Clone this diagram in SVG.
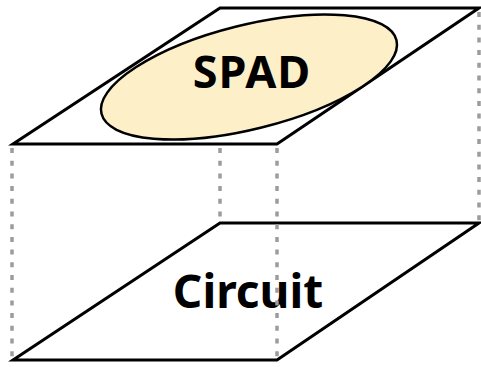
<svg xmlns="http://www.w3.org/2000/svg" width="481" height="367" viewBox="0 0 481 367">
<style>
.plane{fill:none;stroke:#000;stroke-width:3;stroke-linejoin:miter}
.dash{fill:none;stroke:#9c9c9c;stroke-width:3.5;stroke-dasharray:5 7.7}
.lbl{font-family:"Noto Sans","Open Sans","Liberation Sans",sans-serif;font-weight:bold;fill:#000;text-anchor:middle}
</style>
<rect width="481" height="367" fill="#fff"/>
<g id="circuit">
<polygon class="plane" points="220,223 479,223 277,360 13,360"/>
<text class="lbl" x="248" y="308" font-size="46">Circuit</text>
</g>
<g id="spad">
<polygon class="plane" points="220,8 479,8 277,144 13,144"/>
<ellipse cx="249" cy="77" rx="152" ry="52" transform="rotate(-14 249 77)" fill="#fdf0c8" stroke="#000" stroke-width="2.5"/>
<text class="lbl" x="252" y="88" font-size="45" letter-spacing="1">SPAD</text>
</g>
<g id="connectors">
<line class="dash" x1="12" y1="148" x2="12" y2="358"/>
<line class="dash" x1="220" y1="148" x2="220" y2="222"/>
<line class="dash" x1="277" y1="148" x2="277" y2="358"/>
<line class="dash" x1="479" y1="12" x2="479" y2="222"/>
</g>
</svg>
